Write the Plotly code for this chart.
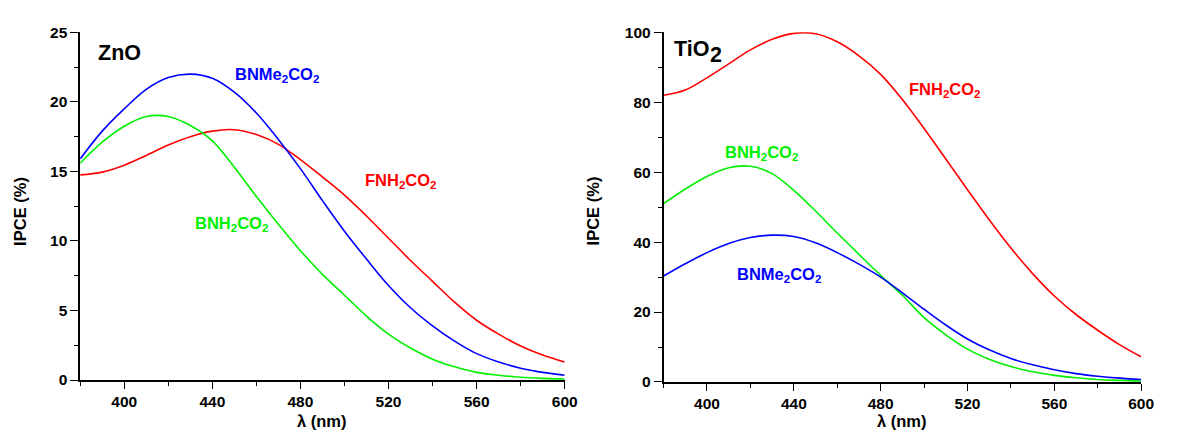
import plotly.graph_objects as go

# wavelength grid (nm)
wavelength = [380, 390, 400, 410, 420, 430, 440, 450, 460, 470, 480, 490,
              500, 510, 520, 530, 540, 550, 560, 570, 580, 590, 600]

# ZnO panel IPCE (%)
zno_bnme2co2 = [15.9, 17.9, 19.5, 20.9, 21.75, 22.0, 21.7, 20.7, 19.2, 17.3, 15.2, 12.9,
                10.7, 8.7, 6.8, 5.2, 3.9, 2.8, 1.9, 1.3, 0.85, 0.55, 0.35]
zno_bnh2co2 = [15.6, 17.1, 18.25, 18.95, 18.95, 18.3, 17.2, 15.3, 13.2, 11.2, 9.3, 7.6,
               6.1, 4.6, 3.3, 2.3, 1.5, 0.95, 0.55, 0.35, 0.2, 0.12, 0.08]
zno_fnh2co2 = [14.75, 14.95, 15.45, 16.15, 16.9, 17.5, 17.9, 18.0, 17.65, 16.95, 15.85, 14.6,
               13.3, 11.8, 10.2, 8.6, 7.1, 5.6, 4.3, 3.3, 2.45, 1.8, 1.3]

# TiO2 panel IPCE (%)
tio2_fnh2co2 = [82.0, 83.5, 87.0, 91.0, 95.0, 98.0, 99.7, 99.6, 97.3, 93.3, 88.0, 80.8,
                72.5, 63.8, 55.0, 46.4, 38.3, 31.0, 24.6, 19.3, 14.8, 10.7, 7.2]
tio2_bnh2co2 = [51.0, 55.2, 58.8, 61.3, 61.7, 59.6, 54.8, 48.9, 42.6, 36.5, 30.5, 24.8,
                18.4, 13.5, 9.4, 6.5, 4.4, 2.9, 1.9, 1.2, 0.7, 0.45, 0.3]
tio2_bnme2co2 = [30.3, 33.8, 37.0, 39.6, 41.3, 42.0, 41.6, 39.8, 37.0, 33.7, 30.0, 25.5,
                 20.8, 16.3, 12.3, 9.2, 6.7, 4.9, 3.5, 2.4, 1.65, 1.1, 0.7]

RED = "#FF0000"
GREEN = "#00F000"
BLUE = "#0000FF"
FONT = "Liberation Sans, Arial, sans-serif"

# figure size inside the page (page body keeps its default 8px margin -> page is 1177x446)
W, H = 1161, 430
OFF = 8  # body margin

fig = go.Figure()

def add(x, y, color, xa, ya):
    fig.add_trace(go.Scatter(x=x, y=y, mode="lines", xaxis=xa, yaxis=ya,
                             line=dict(color=color, width=1.6, shape="spline", smoothing=1.0),
                             showlegend=False, hoverinfo="skip"))

add(wavelength, zno_fnh2co2, RED, "x", "y")
add(wavelength, zno_bnh2co2, GREEN, "x", "y")
add(wavelength, zno_bnme2co2, BLUE, "x", "y")
add(wavelength, tio2_fnh2co2, RED, "x2", "y2")
add(wavelength, tio2_bnh2co2, GREEN, "x2", "y2")
add(wavelength, tio2_bnme2co2, BLUE, "x2", "y2")

def px(v):
    return (v - OFF) / W

def py(v):
    return 1 - (v - OFF) / H

tickfont = dict(family=FONT, size=15.5, color="black", weight="bold")

common_x = dict(range=[380, 600], tick0=400, dtick=40, showline=True, linecolor="black",
                linewidth=1.5, ticks="outside", ticklen=7, tickwidth=1.3, tickcolor="black",
                showgrid=False, zeroline=False, tickfont=tickfont,
                minor=dict(dtick=20, tick0=380, ticks="outside", ticklen=4, tickwidth=1.3,
                           tickcolor="black", showgrid=False))

fig.update_layout(
    width=W, height=H, autosize=False,
    margin=dict(l=0, r=0, t=0, b=0, pad=0),
    paper_bgcolor="white", plot_bgcolor="white",
    xaxis=dict(domain=[px(81), px(571)], anchor="y", **common_x),
    xaxis2=dict(domain=[px(671), px(1154)], anchor="y2", **common_x),
    yaxis=dict(domain=[py(386), py(24)], anchor="x", range=[0, 25], tick0=0, dtick=5,
               showline=True, linecolor="black", linewidth=1.5, ticks="outside", ticklen=8,
               tickwidth=1.3, tickcolor="black", showgrid=False, zeroline=False, tickfont=tickfont,
               minor=dict(dtick=2.5, ticks="outside", ticklen=4, tickwidth=1.3,
                          tickcolor="black", showgrid=False)),
    yaxis2=dict(domain=[py(388), py(24)], anchor="x2", range=[0, 100], tick0=0, dtick=20,
                showline=True, linecolor="black", linewidth=1.5, ticks="outside", ticklen=8,
                tickwidth=1.3, tickcolor="black", showgrid=False, zeroline=False, tickfont=tickfont,
                minor=dict(dtick=10, ticks="outside", ticklen=4, tickwidth=1.3,
                           tickcolor="black", showgrid=False)),
)

def lab(text, x, y, color, xref, yref, size=16.5, **kw):
    fig.add_annotation(text=text, x=x, y=y, xref=xref, yref=yref, showarrow=False,
                       xanchor=kw.pop("xanchor", "left"), yanchor=kw.pop("yanchor", "middle"),
                       font=dict(family=FONT, size=size, color=color, weight="bold"), **kw)

# panel names
lab("ZnO", 387.4, 23.5, "black", "x", "y", size=21.5)
lab("TiO", 384, 95.3, "black", "x2", "y2", size=21.5)
lab("2", px(716), py(48), "black", "paper", "paper", size=21.5)

# series labels ZnO
lab("BNMe<sub>2</sub>CO<sub>2</sub>", 449.4, 21.9, BLUE, "x", "y")
lab("BNH<sub>2</sub>CO<sub>2</sub>", 431.0, 11.2, GREEN, "x", "y")
lab("FNH<sub>2</sub>CO<sub>2</sub>", 508.3, 14.3, RED, "x", "y")

# series labels TiO2
lab("FNH<sub>2</sub>CO<sub>2</sub>", 492.0, 83.5, RED, "x2", "y2")
lab("BNH<sub>2</sub>CO<sub>2</sub>", 407.3, 65.5, GREEN, "x2", "y2")
lab("BNMe<sub>2</sub>CO<sub>2</sub>", 412.7, 30.6, BLUE, "x2", "y2")

# axis titles
lab("IPCE (%)", px(20), py(210), "black", "paper", "paper", size=16.5,
    xanchor="center", textangle=-90)
lab("IPCE (%)", px(600), py(210), "black", "paper", "paper", size=16.5,
    xanchor="center", textangle=-90)
lab("λ (nm)", px(326), py(429), "black", "paper", "paper", size=16.5, xanchor="center")
lab("λ (nm)", px(912), py(429), "black", "paper", "paper", size=16.5, xanchor="center")

fig.write_html("out.html", config={"displayModeBar": False})
